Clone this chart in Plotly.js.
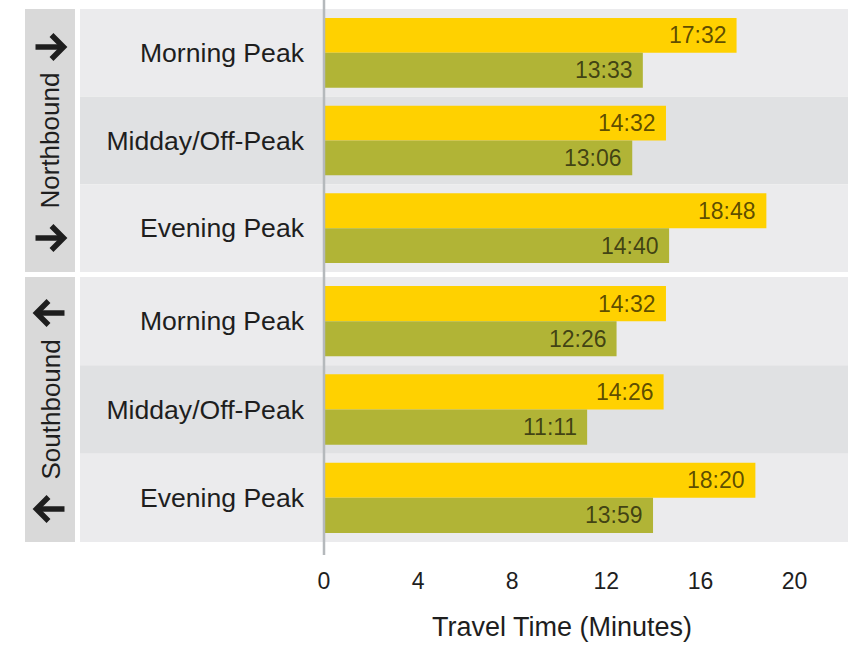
<!DOCTYPE html>
<html>
<head>
<meta charset="utf-8">
<script src="https://cdn.plot.ly/plotly-3.0.1.min.js"></script>
<style>html,body{margin:0;padding:0;background:#fff;}#chart{width:849px;height:645px;}</style>
</head>
<body>
<div id="chart"></div>
<script>
// ---- data ----
const periods = ["Morning Peak", "Midday/Off-Peak", "Evening Peak"];
const directions = ["Northbound", "Southbound"];
const directionSign = [1, -1];   // arrow direction: right / left
const northSeriesA = ["17:32", "14:32", "18:48"];   // yellow bars
const northSeriesB = ["13:33", "13:06", "14:40"];   // green bars
const southSeriesA = ["14:32", "14:26", "18:20"];
const southSeriesB = ["12:26", "11:11", "13:59"];
const xTickVals = [0, 4, 8, 12, 16, 20];
const xTitle = "Travel Time (Minutes)";

// ---- helpers ----
function toMinutes(s) { const p = s.split(":"); return Number(p[0]) + Number(p[1]) / 60; }

const W = 849, H = 645;
const mL = 324, mR = 1, mT = 9, mB = 103;
const plotW = W - mL - mR, plotH = H - mT - mB;
const pxX = px => (px - mL) / plotW;           // pixel -> paper x
const pxY = py => (H - mB - py) / plotH;        // pixel -> paper y

const yellow = "#FFD100", green = "#B1B436";
const font = "Liberation Sans, Arial, Helvetica, sans-serif";
const labelColor = "rgba(0,0,0,0.65)";
const textColor = "#1E1E1E";

const groups = [
  { a: northSeriesA, b: northSeriesB, yaxis: "y",  domain: [pxY(272), 1] },
  { a: southSeriesA, b: southSeriesB, yaxis: "y2", domain: [0, pxY(277)] }
];

const traces = [];
const annotations = [];
const shapes = [];

groups.forEach((g, gi) => {
  traces.push({
    type: "bar", orientation: "h", name: "Series A",
    y: periods, x: g.a.map(toMinutes), xaxis: "x", yaxis: g.yaxis,
    marker: { color: yellow }, hoverinfo: "skip", showlegend: false
  });
  traces.push({
    type: "bar", orientation: "h", name: "Series B",
    y: periods, x: g.b.map(toMinutes), xaxis: "x", yaxis: g.yaxis,
    marker: { color: green }, hoverinfo: "skip", showlegend: false
  });
  // bar value labels
  periods.forEach((p, i) => {
    annotations.push({ x: toMinutes(g.a[i]), y: p, xref: "x", yref: g.yaxis, text: g.a[i],
      showarrow: false, xanchor: "right", yanchor: "middle", xshift: -8, yshift: 17.5,
      font: { family: font, size: 23, color: labelColor } });
    annotations.push({ x: toMinutes(g.b[i]), y: p, xref: "x", yref: g.yaxis, text: g.b[i],
      showarrow: false, xanchor: "right", yanchor: "middle", xshift: -8, yshift: -17.5,
      font: { family: font, size: 23, color: labelColor } });
  });
  // row backgrounds
  const d0 = g.domain[0], d1 = g.domain[1], rh = (d1 - d0) / periods.length;
  periods.forEach((p, i) => {
    shapes.push({ type: "rect", xref: "paper", yref: "paper", layer: "below",
      x0: pxX(80), x1: 1, y0: d1 - (i + 1) * rh, y1: d1 - i * rh,
      fillcolor: i === 1 ? "#E0E1E3" : "#EBEBED", line: { width: 0 } });
  });
  // strip panel
  shapes.push({ type: "rect", xref: "paper", yref: "paper", layer: "below",
    x0: pxX(25), x1: pxX(75), y0: d0, y1: d1, fillcolor: "#D9D9D9", line: { width: 0 } });
  annotations.push({ xref: "paper", yref: "paper", x: pxX(50), y: (d0 + d1) / 2,
    text: directions[gi], textangle: -90, showarrow: false, xanchor: "center", yanchor: "middle",
    font: { family: font, size: 26, color: textColor } });
});

// bold arrows in strips (decorative paths)
const arrowY = [[47, 238], [313, 509]];
arrowY.forEach((pair, gi) => pair.forEach(py => {
  const s = directionSign[gi], cx = 50;
  const tip = cx + s * 13.5, tail = cx - s * 14.5, back = cx + s * 1.5;
  const P = (x, y) => pxX(x) + "," + pxY(y);
  shapes.push({ type: "path", xref: "paper", yref: "paper", layer: "above",
    path: "M" + P(tail, py) + " L" + P(tip - s * 1.5, py),
    line: { color: textColor, width: 5.5 } });
  shapes.push({ type: "path", xref: "paper", yref: "paper", layer: "above",
    path: "M" + P(back, py - 12) + " L" + P(tip, py) + " L" + P(back, py + 12),
    line: { color: textColor, width: 5.5 } });
}));

// zero line extending past plot
shapes.push({ type: "line", xref: "paper", yref: "paper", layer: "above",
  x0: 0, x1: 0, y0: pxY(555), y1: pxY(0), line: { color: "#B5B9BC", width: 2.5 } });

// x axis title
annotations.push({ xref: "paper", yref: "paper", x: pxX(562), y: pxY(627), text: xTitle,
  showarrow: false, xanchor: "center", yanchor: "middle",
  font: { family: font, size: 27, color: textColor } });

const yaxisCommon = {
  type: "category", autorange: "reversed", showgrid: false, zeroline: false, showline: false,
  ticks: "", ticklabelstandoff: 19, tickfont: { family: font, size: 26.6, color: textColor },
  fixedrange: true
};

const layout = {
  width: W, height: H,
  margin: { l: mL, r: mR, t: mT, b: mB, pad: 0 },
  paper_bgcolor: "#FFFFFF", plot_bgcolor: "rgba(0,0,0,0)",
  barmode: "group", bargap: 18 / 88, bargroupgap: 0,
  showlegend: false,
  xaxis: {
    range: [0, plotW / 23.53], anchor: "y2", tickvals: xTickVals, ticktext: xTickVals.map(String),
    showgrid: false, zeroline: false, showline: false, ticks: "", ticklabelstandoff: 23,
    tickfont: { family: font, size: 23, color: textColor },
    fixedrange: true
  },
  yaxis: Object.assign({}, yaxisCommon, { domain: groups[0].domain, anchor: "x" }),
  yaxis2: Object.assign({}, yaxisCommon, { domain: groups[1].domain, anchor: "x" }),
  shapes: shapes,
  annotations: annotations
};

Plotly.newPlot("chart", traces, layout, { displayModeBar: false, staticPlot: true });
</script>
</body>
</html>
